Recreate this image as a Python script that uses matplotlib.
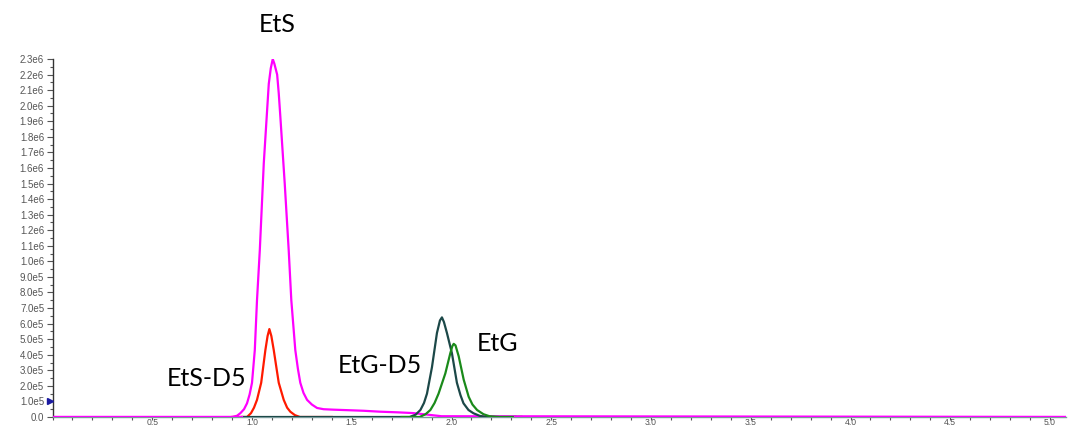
import numpy as np
import matplotlib
matplotlib.use("Agg")
import matplotlib.pyplot as plt
from matplotlib.ticker import MultipleLocator, FuncFormatter

# Retention time [min] and intensity [counts] read for each trace
ets_t = [0.0, 0.90, 0.925, 0.942, 0.96, 0.975, 0.988, 1.0, 1.014, 1.025,
         1.039, 1.059, 1.084, 1.094, 1.104, 1.112, 1.126, 1.134, 1.142,
         1.164, 1.184, 1.197, 1.217, 1.23, 1.242, 1.258, 1.276, 1.3, 1.326,
         1.359, 1.41, 1.476, 1.56, 1.643, 1.73, 1.81, 1.88, 1.95, 5.08]
ets_i = [0, 0, 0.08e5, 0.25e5, 0.5e5, 0.88e5, 1.45e5, 2.2e5, 4.3e5, 7.5e5,
         10.7e5, 16.3e5, 21.4e5, 22.4e5, 23.0e5, 22.7e5, 22.0e5, 20.8e5,
         19.3e5, 15.0e5, 10.7e5, 7.5e5, 4.3e5, 3.1e5, 2.2e5, 1.55e5, 1.1e5,
         0.8e5, 0.58e5, 0.5e5, 0.47e5, 0.44e5, 0.4e5, 0.34e5, 0.3e5, 0.25e5,
         0.15e5, 0.05e5, 0]

etsd5_t = [0.90, 0.975, 0.995, 1.010, 1.025, 1.046, 1.067, 1.078, 1.087,
           1.097, 1.109, 1.122, 1.134, 1.159, 1.176, 1.192, 1.215, 1.24,
           1.40]
etsd5_i = [0, 0, 0.25e5, 0.6e5, 1.1e5, 2.2e5, 4.3e5, 5.2e5, 5.65e5,
           5.2e5, 4.3e5, 3.2e5, 2.2e5, 1.1e5, 0.6e5, 0.34e5, 0.12e5, 0, 0]

etgd5_t = [0.95, 1.79, 1.82, 1.844, 1.862, 1.877, 1.902, 1.927, 1.942,
           1.952, 1.962, 1.977, 2.002, 2.027, 2.045, 2.06, 2.085, 2.11,
           2.14, 2.17, 2.32]
etgd5_i = [0, 0, 0.15e5, 0.45e5, 0.9e5, 1.5e5, 3.2e5, 5.4e5, 6.2e5,
           6.4e5, 6.1e5, 5.4e5, 4.1e5, 2.2e5, 1.4e5, 0.88e5, 0.45e5,
           0.24e5, 0.08e5, 0, 0]

etg_t = [1.75, 1.84, 1.87, 1.894, 1.915, 1.935, 1.969, 1.994, 2.004,
         2.011, 2.02, 2.036, 2.061, 2.086, 2.105, 2.128, 2.16, 2.19, 2.24,
         2.35]
etg_i = [0, 0, 0.18e5, 0.45e5, 0.9e5, 1.5e5, 2.8e5, 4.1e5, 4.55e5,
         4.7e5, 4.6e5, 3.9e5, 2.4e5, 1.3e5, 0.8e5, 0.45e5, 0.18e5, 0.05e5,
         0, 0]

# Peak labels: text, time, intensity
labels = ["EtS", "EtS-D5", "EtG-D5", "EtG"]
label_t = [1.127, 0.772, 1.643, 2.23]
label_i = [2.52e6, 2.5e5, 3.28e5, 4.75e5]

fig = plt.figure(figsize=(10.68, 4.26), dpi=100)
ax = fig.add_axes([52.5 / 1068, 1 - 417 / 426, (1066 - 52.5) / 1068,
                   (417 - 59) / 426])

lw = 1.6
ax.plot(ets_t, ets_i, color="#ff00ff", lw=lw, zorder=3)
ax.plot(etsd5_t, etsd5_i, color="#ff1a00", lw=lw, zorder=4)
ax.plot(etgd5_t, etgd5_i, color="#1c4848", lw=lw, zorder=4)
ax.plot(etg_t, etg_i, color="#1a8a1a", lw=lw, zorder=5)
# magenta baseline outside the peak windows
ax.plot([0.0, 0.95], [0, 0], color="#ff00ff", lw=lw, zorder=6)
ax.plot([2.32, 5.08], [0, 0], color="#ff00ff", lw=lw, zorder=6)

ax.set_xlim(0, 5.08)
ax.set_ylim(0, 2.3e6)

ax.xaxis.set_major_locator(MultipleLocator(0.5))
ax.xaxis.set_minor_locator(MultipleLocator(0.1))
ax.yaxis.set_major_locator(MultipleLocator(1e5))
ax.yaxis.set_minor_locator(MultipleLocator(0.5e5))


def xfmt(v, pos):
    return "" if v < 0.25 else "%.1f" % v


def yfmt(v, pos):
    if v <= 0:
        return "0.0"
    e = int(np.floor(np.log10(v) + 1e-9))
    return "%.1fe%d" % (v / 10 ** e, e)


ax.xaxis.set_major_formatter(FuncFormatter(xfmt))
ax.yaxis.set_major_formatter(FuncFormatter(yfmt))

for lab in ax.get_xticklabels() + ax.get_yticklabels():
    lab.set_fontfamily("Liberation Sans")
ax.tick_params(axis="both", which="both", colors="#555555", width=0.8)
ax.tick_params(axis="y", which="major", length=4, pad=2, labelsize=7)
ax.tick_params(axis="y", which="minor", length=2)
ax.tick_params(axis="x", which="both", length=2.2, pad=-1.5, labelsize=6.2)

for side in ("top", "right"):
    ax.spines[side].set_visible(False)
ax.spines["left"].set_color("#333333")
ax.spines["left"].set_linewidth(1.0)
ax.spines["bottom"].set_color("#7a9a9a")
ax.spines["bottom"].set_linewidth(1.0)

# small marker on the y axis at 1.0e5
ax.plot([-0.012], [1.0e5], marker=">", color="#1a1aa0", ms=5,
        clip_on=False, zorder=7)

for s, t, i in zip(labels, label_t, label_i):
    ax.text(t, i, s, ha="center", va="center", fontsize=18,
            family="Lato", color="black", clip_on=False)

fig.savefig("out.png", dpi=100)
